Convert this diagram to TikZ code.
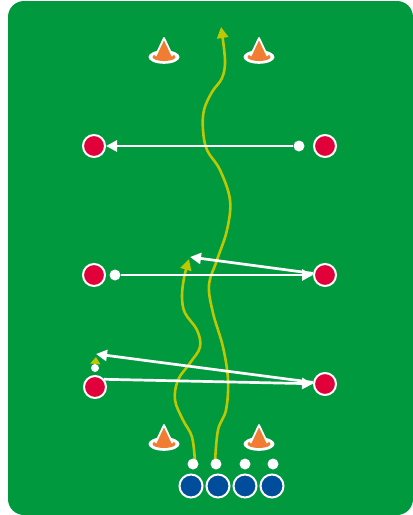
\documentclass[tikz,border=0pt]{standalone}
\usetikzlibrary{arrows.meta}
\definecolor{field}{RGB}{0,153,62}
\definecolor{pred}{RGB}{226,0,58}
\definecolor{pblue}{RGB}{0,78,155}
\definecolor{conec}{RGB}{240,125,50}
\definecolor{yel}{RGB}{190,200,0}
\tikzset{
  redp/.style={circle, fill=pred, draw=white, line width=2pt, minimum size=22pt, inner sep=0pt},
  bluep/.style={circle, fill=pblue, draw=white, line width=2pt, minimum size=23pt, inner sep=0pt},
  ball/.style={circle, fill=white, minimum size=11pt, inner sep=0pt},
  smallball/.style={circle, fill=white, minimum size=8pt, inner sep=0pt},
  wa/.style={draw=white, line width=2.7pt, -{Triangle[length=11pt,width=11pt]}},
  ya/.style={draw=yel, line width=2.6pt, -{Triangle[length=11pt,width=11pt]}},
  cone/.pic={
    \fill[white] (0,0) ellipse (15.5pt and 6.8pt);
    \fill[conec] (0,0) ellipse (11.5pt and 4pt);
    \draw[white, line width=1.8pt, fill=conec, line join=round] (-8.5,-1) -- (0,-19) -- (8.5,-1);
    \fill[conec] (-7,-1.5) rectangle (7,0.5);
  }
}
\begin{document}
\begin{tikzpicture}[x=1pt,y=-1pt]
\useasboundingbox (0,0) rectangle (413,515);
\fill[field, rounded corners=16pt] (8,1) rectangle (413,515);

% cones
\pic at (164,57) {cone};
\pic at (259,57) {cone};
\pic at (164,444) {cone};
\pic at (259,444) {cone};

% yellow runs
\draw[ya] plot[smooth, tension=0.6] coordinates {(215,462) (218,430) (226,410) (228,380) (223,347) (213,313) (209,285) (217,260) (227,230) (230,200) (220,170) (207,150) (203,130) (204,110) (212,92) (222,78) (225,60) (221,27)};
\draw[ya] plot[smooth, tension=0.6] coordinates {(195,462) (192,437) (183,420) (175,400) (178,380) (190,363) (200,347) (197,330) (185,313) (182,297) (184,278) (189,259)};

% red players
\node[redp] (r1) at (94,146) {};
\node[redp] (r2) at (325,146) {};
\node[redp] (r3) at (94,275) {};
\node[redp] (r4) at (325,275) {};
\node[redp] (r5) at (95,387) {};
\node[redp] (r6) at (325,384) {};

% balls near red players
\node[ball] (k1) at (299,146) {};
\node[ball] (k2) at (115,275) {};
\node[smallball] (k3) at (95,368) {};
\coordinate (k3t) at (96,357);
\draw[draw=yel, line width=2.2pt, -{Triangle[length=7pt,width=10pt]}] (k3) -- (k3t);

% blue players and balls
\node[bluep] (b1) at (191,486) {};
\node[bluep] (b2) at (218,486) {};
\node[bluep] (b3) at (245,486) {};
\node[bluep] (b4) at (272,486) {};
\node[ball] (s1) at (193,464) {};
\node[ball] (s2) at (216,464) {};
\node[ball] (s3) at (245,464) {};
\node[ball] (s4) at (273,464) {};

% passes
\coordinate (t3) at (190,257);
\coordinate (t5) at (96,354);
\draw[wa] (k1) -- (r1);
\draw[wa] (k2) -- (r4);
\draw[wa] (r4) -- (t3);
\draw[wa] (r5.40) -- (r6);
\draw[wa] (r6) -- (t5);
\end{tikzpicture}
\end{document}
